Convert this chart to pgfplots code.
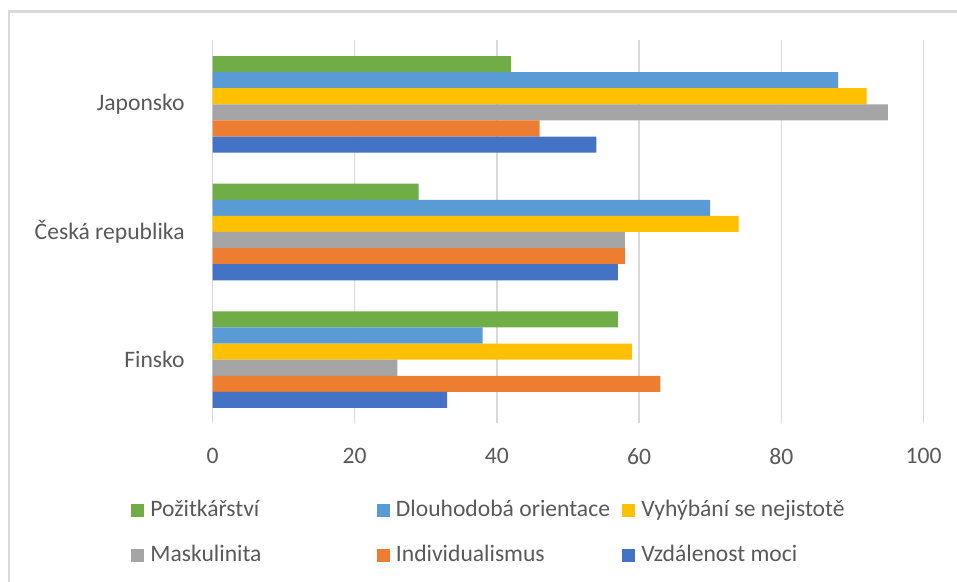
\documentclass[border=0pt]{standalone}
\usepackage{fontspec}
\setmainfont{Carlito}
\usepackage{pgfplots}
\pgfplotsset{compat=1.18}
\definecolor{cBlue}{HTML}{4472C4}
\definecolor{cOrange}{HTML}{ED7D31}
\definecolor{cGray}{HTML}{A5A5A5}
\definecolor{cYellow}{HTML}{FFC000}
\definecolor{cLBlue}{HTML}{5B9BD5}
\definecolor{cGreen}{HTML}{70AD47}
\definecolor{txt}{RGB}{89,89,89}
\definecolor{grd}{RGB}{217,217,217}
\newcommand{\lbl}[1]{\makebox[113.25pt][l]{#1}}
\begin{document}
\begin{tikzpicture}
\path[use as bounding box] (0,0) rectangle (478.5pt,291pt);
\draw[grd, line width=1.2pt] (4.6pt,-20pt) -- (4.6pt,285.3pt) -- (540pt,285.3pt);
\begin{axis}[
  at={(106.25pt,79.25pt)}, anchor=south west,
  scale only axis, width=355.5pt, height=191.5pt,
  xbar, bar width=8.05pt,
  xmin=0, xmax=100, ymin=-0.5, ymax=2.5,
  xtick={0,20,40,60,80,100}, ytick={0,1,2},
  yticklabels={Finsko,Česká republika,Japonsko},
  xmajorgrids, major grid style={grd, line width=0.75pt},
  axis line style={draw=none}, tick style={draw=none},
  tick label style={font=\fontsize{11.8}{14}\selectfont, text=txt},
  /pgf/number format/assume math mode=true,
  xticklabel style={inner sep=0pt, anchor=north, yshift=-12.25pt},
  yticklabel style={inner sep=0pt, anchor=east, xshift=-9.5pt},
  legend columns=3,
  legend style={draw=none, fill=none, inner sep=0pt,
    at={(-0.1146,-0.1971)}, anchor=north west,
    nodes={inner sep=0pt, font=\fontsize{11.8}{14}\selectfont, text=txt, text height=8.5pt, text depth=2.5pt},
    row sep=11.5pt,
    /tikz/every odd column/.append style={column sep=3pt}},
  every axis plot post/.append style={legend image code/.code={\fill[#1] (0pt,-3.25pt) rectangle (6.5pt,3.25pt);}},
]
\addplot[fill=cGreen, draw=none, bar shift=20.125pt] coordinates {(57,0) (29,1) (42,2)};
\addlegendentry{\lbl{Požitkářství}}
\addplot[fill=cLBlue, draw=none, bar shift=12.075pt] coordinates {(38,0) (70,1) (88,2)};
\addlegendentry{\lbl{Dlouhodobá orientace}}
\addplot[fill=cYellow, draw=none, bar shift=4.025pt] coordinates {(59,0) (74,1) (92,2)};
\addlegendentry{\lbl{Vyhýbání se nejistotě}}
\addplot[fill=cGray, draw=none, bar shift=-4.025pt] coordinates {(26,0) (58,1) (95,2)};
\addlegendentry{\lbl{Maskulinita}}
\addplot[fill=cOrange, draw=none, bar shift=-12.075pt] coordinates {(63,0) (58,1) (46,2)};
\addlegendentry{\lbl{Individualismus}}
\addplot[fill=cBlue, draw=none, bar shift=-20.125pt] coordinates {(33,0) (57,1) (54,2)};
\addlegendentry{\lbl{Vzdálenost moci}}
\end{axis}
\end{tikzpicture}
\end{document}
